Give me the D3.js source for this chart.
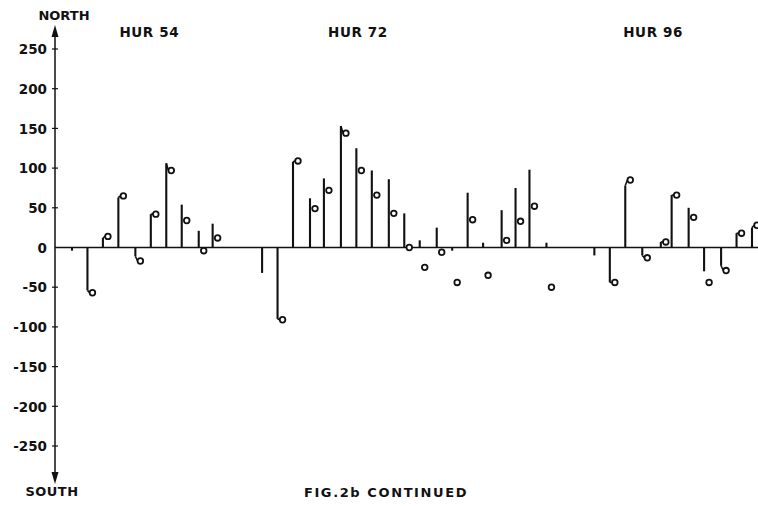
<!DOCTYPE html>
<html>
<head>
<meta charset="utf-8">
<script src="https://cdn.jsdelivr.net/npm/d3@7"></script>
<style>
  html, body { margin: 0; padding: 0; background: #fff; }
  svg { display: block; }
  text { font-family: "DejaVu Sans", sans-serif; fill: #111; }
</style>
</head>
<body>
<svg id="chart" width="758" height="506"></svg>
<script>
// ---- data ----
const sampleTimes = [0, 1.0, 2.0, 3.0, 4.1, 5.1, 6.1, 7.1, 8.2, 9.1,
  12.3, 13.3, 14.3, 15.4, 16.3, 17.4, 18.4, 19.4, 20.5, 21.5, 22.5, 23.6, 24.6, 25.6, 26.6, 27.8, 28.7, 29.6, 30.7,
  33.8, 34.8, 35.8, 36.9, 38.1, 38.8, 39.9, 40.9, 42.0, 43.0, 44.0];
const barValues = [-4, -54, 12, 63, -11, 42, 106, 54, 21, 30,
  -32, -90, 108, 62, 87, 153, 125, 97, 86, 43, 9, 25, -4, 69, 6, 47, 75, 98, 6,
  -10, -44, 78, -10, 7, 66, 50, -30, -23, 18, 25];
const circleValues = [null, -57, 14, 65, -17, 42, 97, 34, -4, 12,
  null, -91, 109, 49, 72, 144, 97, 66, 43, 0, -25, -6, -44, 35, -35, 9, 33, 52, -50,
  null, -44, 85, -13, 7, 66, 38, -44, -29, 18, 28];
const hurricaneLabels = ["HUR 54", "HUR 72", "HUR 96"];
const hurricaneLabelTimes = [5.0, 18.5, 37.6];
const yTickValues = [250, 200, 150, 100, 50, 0, -50, -100, -150, -200, -250];

// ---- layout ----
const svg = d3.select("#chart");
const axisX = 55;
const x = d3.scaleLinear().domain([0, 44]).range([72, 752]);
const y = d3.scaleLinear().domain([-250, 250]).range([446, 49]);
const circleOffset = 5;
const r = 2.8;

// baseline (zero line)
svg.append("line")
  .attr("x1", axisX).attr("x2", 758)
  .attr("y1", y(0)).attr("y2", y(0))
  .attr("stroke", "#111").attr("stroke-width", 1.7);

// vertical axis with arrows
svg.append("line")
  .attr("x1", axisX).attr("x2", axisX)
  .attr("y1", 30).attr("y2", 478)
  .attr("stroke", "#111").attr("stroke-width", 1.5);
svg.append("path")
  .attr("d", `M${axisX},25 L${axisX - 3.5},37 L${axisX + 3.5},37 Z`)
  .attr("fill", "#111");
svg.append("path")
  .attr("d", `M${axisX},484 L${axisX - 3.5},472 L${axisX + 3.5},472 Z`)
  .attr("fill", "#111");

// y ticks and labels
const yAxis = d3.axisLeft(y).tickValues(yTickValues).tickSize(0).tickPadding(8)
  .tickFormat(d => d);
const gy = svg.append("g").attr("transform", `translate(${axisX},0)`).call(yAxis);
gy.select(".domain").remove();
gy.selectAll("text").attr("font-size", 13.5).attr("font-weight", "bold")
  .attr("font-family", "DejaVu Sans, sans-serif")
  .attr("fill", "#111").attr("dy", "0.35em");
svg.selectAll(".tickmark").data(yTickValues.filter(d => d !== 0)).enter()
  .append("line")
  .attr("x1", axisX - 3).attr("x2", axisX + 3)
  .attr("y1", d => y(d)).attr("y2", d => y(d))
  .attr("stroke", "#111").attr("stroke-width", 1.2);

// NORTH / SOUTH
svg.append("text").attr("x", 64).attr("y", 20).attr("text-anchor", "middle")
  .attr("font-size", 13).attr("font-weight", "bold").text("NORTH");
svg.append("text").attr("x", 52).attr("y", 496).attr("text-anchor", "middle")
  .attr("font-size", 13).attr("font-weight", "bold").attr("letter-spacing", 0.5).text("SOUTH");

// hurricane labels
svg.selectAll(".hur").data(hurricaneLabels).enter().append("text")
  .attr("x", (d, i) => x(hurricaneLabelTimes[i]))
  .attr("y", 37).attr("text-anchor", "middle")
  .attr("font-size", 13.5).attr("font-weight", "bold").attr("letter-spacing", 0.6)
  .text(d => d);

// caption
svg.append("text").attr("x", 386).attr("y", 497).attr("text-anchor", "middle")
  .attr("font-size", 13).attr("font-weight", "bold").attr("letter-spacing", 1.6)
  .text("FIG.2b CONTINUED");

// bars
const data = sampleTimes.map((t, i) => ({ t, bar: barValues[i], circ: circleValues[i] }));
svg.append("g").selectAll("line").data(data).enter().append("line")
  .attr("x1", d => x(d.t)).attr("x2", d => x(d.t))
  .attr("y1", y(0)).attr("y2", d => y(d.bar))
  .attr("stroke", "#111").attr("stroke-width", 2.1);

// flag connectors where the circle sits near the bar end
svg.append("g").selectAll("line")
  .data(data.filter(d => d.circ !== null && Math.abs(d.circ - d.bar) <= 10))
  .enter().append("line")
  .attr("x1", d => x(d.t)).attr("x2", d => x(d.t) + circleOffset - r)
  .attr("y1", d => y(d.bar)).attr("y2", d => y(d.circ))
  .attr("stroke", "#111").attr("stroke-width", 1.6);

// circles
svg.append("g").selectAll("circle")
  .data(data.filter(d => d.circ !== null)).enter().append("circle")
  .attr("cx", d => x(d.t) + circleOffset)
  .attr("cy", d => y(d.circ))
  .attr("r", r)
  .attr("fill", "#fff").attr("stroke", "#111").attr("stroke-width", 1.8);
</script>
</body>
</html>
